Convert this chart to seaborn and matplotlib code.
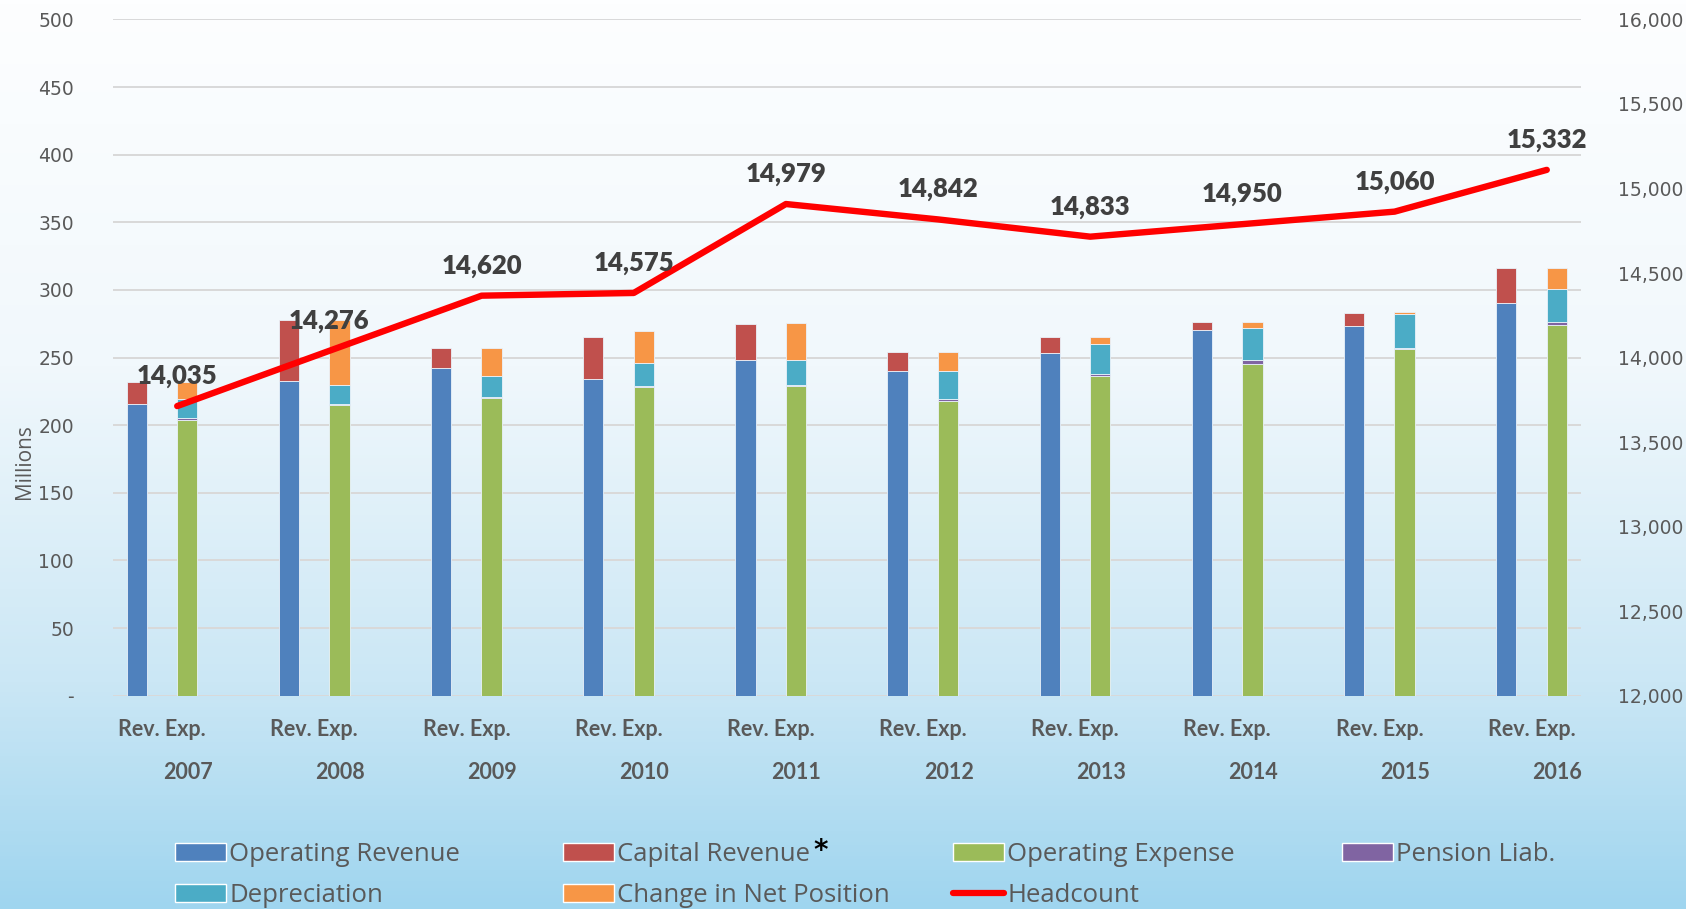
import numpy as np
import matplotlib
matplotlib.use("Agg")
import matplotlib.pyplot as plt
import matplotlib.transforms as mtransforms
from matplotlib.colors import LinearSegmentedColormap
from matplotlib.patches import Patch
from matplotlib.lines import Line2D
from matplotlib.ticker import FuncFormatter, MultipleLocator
import seaborn as sns

# ---- data (millions of dollars) ----
years = ['2007', '2008', '2009', '2010', '2011', '2012', '2013', '2014', '2015', '2016']
operating_revenue = [216, 233, 242, 234, 248, 240, 253, 270, 273, 290]
capital_revenue = [16, 45, 15, 31, 27, 14, 12, 6, 10, 26]
operating_expense = [204, 215, 220, 228, 229, 218, 236, 245, 256, 274]
pension_liab = [1, 1, 1, 1, 1, 1.5, 2, 3, 1, 2]
depreciation = [14, 14, 15, 17, 18.5, 20.5, 22, 24, 25, 25]
change_in_net_position = [13, 48, 21, 23.5, 27, 14, 5, 4, 1.5, 15]

# headcount: data labels as printed, and the line as it is drawn on the right axis
headcount_labels = [14035, 14276, 14620, 14575, 14979, 14842, 14833, 14950, 15060, 15332]
headcount_line = [13713, 14040, 14366, 14382, 14908, 14817, 14715, 14789, 14863, 15110]

colors = {
    'Operating Revenue': '#4f81bd',
    'Capital Revenue': '#c0504d',
    'Operating Expense': '#9bbb59',
    'Pension Liab.': '#8064a2',
    'Depreciation': '#4bacc6',
    'Change in Net Position': '#f79646',
}
TXT = '#595959'
LBL = '#404040'

sns.set_style('white')
plt.rcParams['font.family'] = ['DejaVu Sans']

fig = plt.figure(figsize=(16.86, 9.09), dpi=100)

# background gradient
bg = fig.add_axes([0, 0, 1, 1], zorder=-10)
cmap = LinearSegmentedColormap.from_list(
    'bg', [(0.0, '#9fd5ef'), (0.25, '#cbe7f5'), (0.6, '#f1f8fc'), (1.0, '#fdfeff')])
grad = np.linspace(0, 1, 256).reshape(-1, 1)
bg.imshow(grad, aspect='auto', cmap=cmap, extent=[0, 1, 0, 1], origin='lower')
bg.axis('off')

ax = fig.add_axes([113 / 1686, 1 - 695.7 / 909, (1581 - 113) / 1686, (695.7 - 19.4) / 909])
ax.set_zorder(1)
ax.patch.set_visible(False)

x = np.arange(len(years))
bar_w = 0.134
off = 0.166
edge = dict(edgecolor='#eaf2fa', linewidth=0.6)

# revenue stack
ax.bar(x - off, operating_revenue, bar_w, color=colors['Operating Revenue'], **edge)
ax.bar(x - off, capital_revenue, bar_w, bottom=operating_revenue,
       color=colors['Capital Revenue'], **edge)

# expense stack
bottom = np.zeros(len(years))
for name, vals in [('Operating Expense', operating_expense), ('Pension Liab.', pension_liab),
                   ('Depreciation', depreciation), ('Change in Net Position', change_in_net_position)]:
    ax.bar(x + off, vals, bar_w, bottom=bottom, color=colors[name], **edge)
    bottom = bottom + np.array(vals)

ax.set_xlim(-0.322, 9.325)
ax.set_ylim(0, 500)
ax.yaxis.set_major_locator(MultipleLocator(50))
ax.yaxis.set_major_formatter(FuncFormatter(lambda v, p: '-' if v == 0 else f'{v:,.0f}'))
ax.grid(axis='y', color='#d9d9d9', linewidth=1.4)
ax.set_axisbelow(True)
for s in ax.spines.values():
    s.set_visible(False)
ax.tick_params(axis='y', length=0, pad=28, labelsize=13.5, labelcolor=TXT)
ax.set_xticks(x)
ax.set_xticklabels(['Rev. Exp.'] * len(years), fontfamily='Lato', fontweight='bold',
                   fontsize=15.5, color=TXT)
ax.tick_params(axis='x', length=0, pad=17)

trans = mtransforms.blended_transform_factory(ax.transData, ax.transAxes)
for i, yr in enumerate(years):
    ax.text(i + 0.17, -77 / 676.3, yr, transform=trans, ha='center', va='center',
            fontfamily='Lato', fontweight='bold', fontsize=15.5, color=TXT)

fig.text(24 / 1686, 1 - 462 / 909, 'Millions', rotation=90, ha='center', va='center',
         fontfamily='Open Sans', fontsize=15, color=TXT)

# headcount on the secondary axis
ax2 = ax.twinx()
ax2.set_zorder(2)
ax2.patch.set_visible(False)
sns.lineplot(x=x + 0.1, y=headcount_line, ax=ax2, color='#ff0000', linewidth=4.6)
ax2.set_ylim(12000, 16000)
ax2.yaxis.set_major_locator(MultipleLocator(500))
ax2.yaxis.set_major_formatter(FuncFormatter(lambda v, p: f'{v:,.0f}'))
ax2.tick_params(axis='y', length=0, pad=27, labelsize=13.5, labelcolor=TXT)
for s in ax2.spines.values():
    s.set_visible(False)
ax2.set_ylabel('')

for xi, yl, lab in zip(x + 0.1, headcount_line, headcount_labels):
    ax2.annotate(f'{lab:,}', (xi, yl), xytext=(0, 13), textcoords='offset points',
                 ha='center', va='bottom', fontfamily='Lato', fontweight='heavy',
                 fontsize=18.5, color=LBL)

# legend laid out as four columns
def patch(name):
    return Patch(facecolor=colors[name])

columns = [
    ([patch('Operating Revenue'), patch('Depreciation')], ['Operating Revenue', 'Depreciation'], 175),
    ([patch('Capital Revenue'), patch('Change in Net Position')],
     ['Capital Revenue', 'Change in Net Position'], 563),
    ([patch('Operating Expense'), Line2D([0], [0], color='#ff0000', linewidth=4.5)],
     ['Operating Expense', 'Headcount'], 953),
    ([patch('Pension Liab.')], ['Pension Liab.'], 1342),
]
legends = []
for handles, labels, xpx in columns:
    leg = fig.legend(handles, labels, loc='upper left', bbox_to_anchor=(xpx / 1686, 1 - 842 / 909),
                     frameon=False, borderpad=0, borderaxespad=0, handlelength=2.0,
                     handleheight=0.72, handletextpad=0.12, labelspacing=0.62,
                     prop={'family': 'Open Sans', 'size': 18.5})
    for t in leg.get_texts():
        t.set_color(TXT)
    legends.append(leg)

# black superscript asterisk after "Capital Revenue"
fig.canvas.draw()
bb = legends[1].get_texts()[0].get_window_extent().transformed(fig.transFigure.inverted())
fig.text(bb.x1 + 0.002, bb.y1 + 0.006, '*', ha='left', va='top', fontsize=20,
         fontweight='bold', color='black')

fig.savefig('out.png', dpi=100)
